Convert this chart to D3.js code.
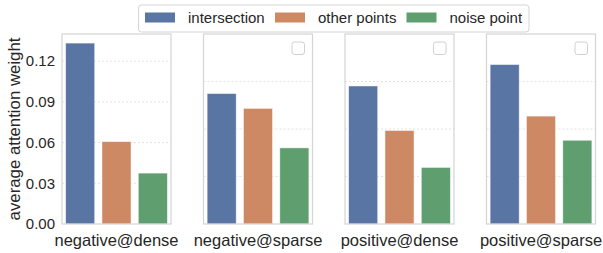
<!DOCTYPE html>
<html>
<head>
<meta charset="utf-8">
<script src="https://cdn.jsdelivr.net/npm/d3@7"></script>
<style>
body { margin: 0; background: #fff; }
text { font-family: Arial, "Liberation Sans", sans-serif; fill: #262626; }
</style>
</head>
<body>
<div id="chart"></div>
<script>
const panels = ['negative@dense', 'negative@sparse', 'positive@dense', 'positive@sparse'];
const types = ['intersection', 'other points', 'noise point'];
const colors = ['#5975a4', '#cc8963', '#5f9e6e'];

const intersection = [0.1333, 0.0961, 0.1017, 0.1175];
const otherPoints = [0.0607, 0.0852, 0.0689, 0.0795];
const noisePoint = [0.0375, 0.0561, 0.0417, 0.0617];

const yTicks = [0, 0.03, 0.06, 0.09, 0.12];
// the right three panels show their own (unlabelled) grid
const gridOther = [0.035, 0.07, 0.105];

const width = 603;
const height = 253;
const plotTop = 34, plotBottom = 224;
const panelW = 109;
const panelX = [62, 203.5, 345, 486.5];

const svg = d3.select('#chart').append('svg')
  .attr('width', width)
  .attr('height', height);

const y = d3.scaleLinear().domain([0, 0.14]).range([plotBottom, plotTop]);
const x = d3.scaleBand().domain(types).range([0, panelW]).paddingInner(0.2).paddingOuter(0.1);

const series = [intersection, otherPoints, noisePoint];

panels.forEach((name, i) => {
  const g = svg.append('g').attr('transform', `translate(${panelX[i]},0)`);

  const grid = i === 0 ? yTicks.slice(1) : gridOther;
  g.selectAll('line.grid')
    .data(grid)
    .enter()
    .append('line')
    .attr('x1', 0).attr('x2', panelW)
    .attr('y1', d => y(d)).attr('y2', d => y(d))
    .attr('stroke', '#dcdcdc')
    .attr('stroke-width', 0.8)
    .attr('stroke-dasharray', '2,2');

  const vals = types.map((t, k) => ({ type: t, v: series[k][i], c: colors[k] }));
  g.selectAll('rect.bar')
    .data(vals)
    .enter()
    .append('rect')
    .attr('x', d => x(d.type))
    .attr('y', d => y(d.v))
    .attr('width', x.bandwidth())
    .attr('height', d => y(0) - y(d.v))
    .attr('fill', d => d.c)
    .attr('stroke', '#ffffff')
    .attr('stroke-opacity', 0.6)
    .attr('stroke-width', 0.8);

  g.append('rect')
    .attr('x', 0).attr('y', plotTop)
    .attr('width', panelW).attr('height', plotBottom - plotTop)
    .attr('fill', 'none')
    .attr('stroke', '#d4d4d4')
    .attr('stroke-width', 1.2);

  if (i > 0) {
    // empty legend box
    g.append('rect')
      .attr('x', panelW - 20.5).attr('y', 42)
      .attr('width', 12.5).attr('height', 12.5)
      .attr('rx', 2.5)
      .attr('fill', '#fff')
      .attr('stroke', '#d0d0d0')
      .attr('stroke-width', 1);
  }

  g.append('text')
    .attr('x', panelW / 2)
    .attr('y', 246)
    .attr('text-anchor', 'middle')
    .style('font-size', '16.5px')
    .text(name);
});

// y axis labels for first panel
const yAxis = d3.axisLeft(y).tickValues(yTicks).tickFormat(d3.format('.2f')).tickSize(0).tickPadding(7);
const ga = svg.append('g').attr('transform', `translate(${panelX[0]},0)`).call(yAxis);
ga.select('.domain').remove();
ga.selectAll('text').style('font-size', '15px').attr('fill', '#262626')
  .style('font-family', 'Arial, "Liberation Sans", sans-serif');

svg.append('text')
  .attr('transform', `translate(20,${(plotTop + plotBottom) / 2}) rotate(-90)`)
  .attr('text-anchor', 'middle')
  .style('font-size', '16.8px')
  .text('average attention weight');

// legend
const legend = svg.append('g');
legend.append('rect')
  .attr('x', 138.5).attr('y', 5)
  .attr('width', 390.5).attr('height', 27)
  .attr('rx', 3)
  .attr('fill', '#fff')
  .attr('stroke', '#d4d4d4');

const legX = [145, 275, 406.5];
const items = legend.selectAll('g.item')
  .data(types)
  .enter()
  .append('g')
  .attr('transform', (d, k) => `translate(${legX[k]},0)`);

items.append('rect')
  .attr('x', 0).attr('y', 12.5)
  .attr('width', 30).attr('height', 10)
  .attr('fill', (d, k) => colors[k]);

items.append('text')
  .attr('x', 43)
  .attr('y', 23)
  .style('font-size', '15px')
  .text(d => d);
</script>
</body>
</html>
